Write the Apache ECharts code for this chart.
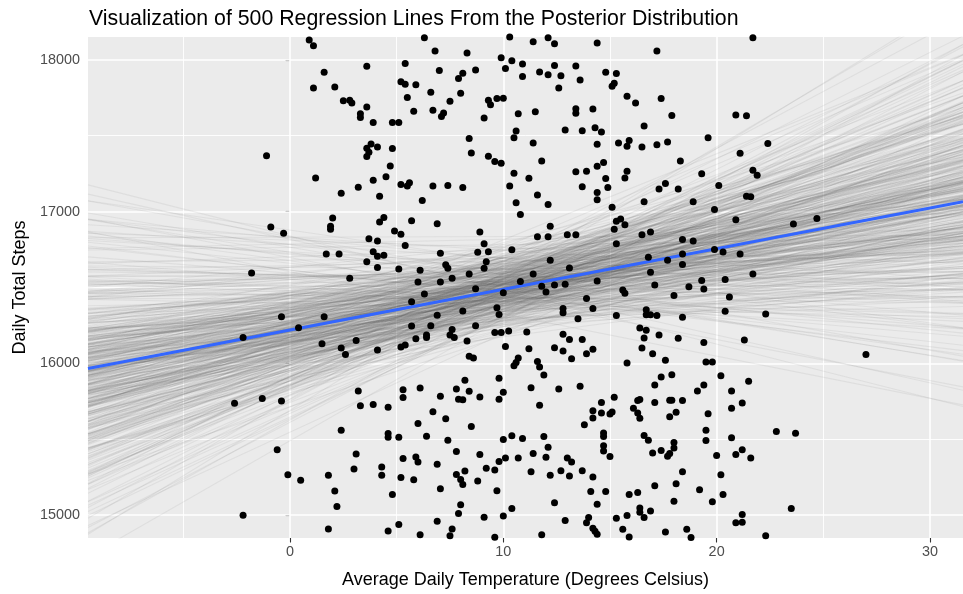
<!DOCTYPE html>
<html>
<head>
<meta charset="utf-8">
<script src="https://cdn.jsdelivr.net/npm/echarts@6/dist/echarts.min.js"></script>
<style>
html,body{margin:0;padding:0;background:#fff;}
#chart{width:963px;height:594px;}
</style>
</head>
<body>
<div id="chart"></div>
<script>
// ---- observed data: average daily temperature (°C) and daily total steps ----
const tempC = [
0.9,1.1,6.8,6.3,3.6,5.4,1.6,7.0,1.1,2.1,5.2,5.4,5.9,6.6,5.5,2.5,2.8,2.9,3.6,3.3,3.3,3.9,4.8,5.1,5.8,6.7,
-1.1,3.8,3.6,4.1,3.7,3.6,4.8,4.7,1.2,3.9,4.5,3.2,2.4,4.2,5.2,5.6,5.5,6.7,6.2,2.0,1.9,1.9,-0.9,-0.3,4.4,4.2,5.7,6.9,4.9,5.2,
3.7,4.1,5.4,3.9,1.7,2.3,4.1,4.4,7.05,3.6,4.1,5.1,6.1,-1.8,2.8,6.0,7.05,
-2.2,-0.4,1.6,0.4,1.5,2.4,2.6,3.1,4.1,5.2,5.4,5.9,6.4,6.4,6.6,6.9,5.7,5.7,6.3,-2.6,-1.3,-0.4,3.2,3.3,3.9,4.6,5.3,5.3,6.1,7.05,
6.7,6.0,2.4,4.6,4.6,5.1,6.4,-0.6,3.1,5.3,5.9,6.0,6.9,4.3,3.0,-0.1,0.5,1.8,4.3,5.2,5.8,7.05,2.1,4.8,2.2,-2.2,1.8,4.6,5.1,6.1,6.9,
8.3,11.4,12.1,12.4,14.4,17.2,10.3,9.9,10.4,10.1,10.9,10.9,8.7,8.1,7.9,8.0,7.5,7.2,7.1,11.7,12.1,12.4,12.7,12.6,13.4,13.6,14.8,
15.3,15.2,15.1,15.8,16.2,9.3,9.4,9.7,10.0,9.1,10.7,11.5,13.4,13.4,14.2,10.6,10.5,12.9,13.7,14.3,14.6,16.6,8.4,8.5,11.4,14.4,
15.4,15.8,15.9,16.5,17.2,9.3,9.6,9.9,11.8,13.4,13.9,14.4,14.7,14.8,15.8,15.7,10.5,11.2,10.3,7.4,8.1,13.7,14.9,14.4,14.4,11.6,
10.6,12.1,10.8,15.1,16.6,15.3,15.5,15.7,15.2,15.3,16.5,16.9,8.9,9.1,8.8,9.3,10.4,12.2,11.6,12.1,13.0,13.4,9.2,9.1,12.2,13.1,
8.4,7.6,7.3,7.4,11.4,10.8,12.4,12.9,14.4,16.8,16.9,17.1,11.8,
21.7,17.4,17.9,20.9,21.4,17.7,19.6,22.4,21.1,18.3,19.3,21.7,21.9,17.6,17.3,18.2,20.1,21.4,21.6,18.9,19.9,20.9,23.6,24.7,
18.4,18.9,18.4,17.7,18.4,19.9,20.3,21.1,21.7,19.3,20.4,18.7,19.4,
8.7,10.0,12.0,15.6,15.7,8.1,9.7,9.8,12.8,12.8,13.9,14.2,13.5,15.3,16.7,16.7,16.9,8.7,7.6,7.5,7.7,8.3,9.6,9.9,10.25,11.1,10.1,
12.8,13.1,13.7,12.4,12.8,13.2,13.9,14.2,11.2,16.4,16.7,16.6,16.5,17.0,8.4,8.6,10.7,10.6,10.5,11.6,11.7,11.9,15.8,9.8,8.2,7.8,
8.4,7.9,8.1,8.9,10.0,9.8,11.3,12.6,13.6,11.7,15.2,14.6,14.2,14.2,14.6,15.0,15.1,13.8,16.3,16.4,16.1,16.3,16.4,17.1,17.1,7.3,
8.5,7.4,7.8,8.9,10.0,10.4,10.9,11.9,12.1,11.4,12.0,10.1,10.7,9.8,9.2,9.6,11.3,12.2,13.0,13.2,12.7,13.1,13.7,14.2,14.7,14.7,
14.7,14.7,15.0,16.6,16.8,17.0,7.8,8.0,8.1,8.2,8.8,9.7,14.1,14.8,14.4,12.4,8.0,7.9,10.4,10.0,9.1,12.9,14.0,13.9,14.2,14.3,14.4,
15.3,15.6,15.9,15.8,15.9,16.3,16.4,16.4,16.6,16.9,17.1,7.6,7.5,9.6,11.8,
18.0,20.6,20.4,22.3,17.2,18.4,17.3,18.2,19.4,21.3,27.0,17.6,19.5,19.8,17.4,17.9,20.2,21.5,19.4,19.1,20.7,21.2,20.7,17.8,17.9,
18.4,18.1,17.8,19.6,19.5,19.5,20.7,22.8,23.7,18.0,18.0,17.4,17.8,17.7,20.0,20.9,21.2,21.6,18.4,20.2,18.1,19.2,20.3,18.0,19.8,
23.5,21.2,20.9,21.2,17.6,18.6,18.8,22.3
];
const dailySteps = [
18130,18093,18058,18145,17957,17976,17918,17929,17814,17821,17855,17838,17836,17786,17752,17730,17734,17715,17689,17644,17620,17587,17587,17587,17661,17667,
17367,17445,17417,17425,17391,17363,17415,17300,17222,17207,17229,17160,17121,17101,17179,17190,17168,17168,17073,16957,16903,16883,16898,16857,16961,16931,16939,16920,16872,16851,
16821,16806,16777,16736,16721,16721,16706,16712,16725,16670,16631,16622,16613,16596,16561,16537,16537,
16170,16307,16307,16235,16129,16101,16058,16151,16088,16108,16121,16162,16187,16170,16248,16317,16246,16406,16458,15738,15769,15753,15818,15721,15730,15712,15827,15775,15838,15784,
15682,15604,15559,15539,15513,15513,15520,15432,15403,15373,15384,15350,15335,15317,15304,15267,15231,15263,15263,15248,15233,15175,15160,15136,15058,15000,14909,14896,14939,14872,14961,
18045,18119,18145,18106,18110,18058,18150,18013,17994,17942,17972,17890,17933,17911,17877,17780,17726,17650,17626,17920,17901,17963,17894,17814,17959,17866,17918,
17909,17846,17825,17760,17715,17734,17704,17745,17747,17616,17644,17657,17678,17648,17676,17531,17486,17538,17533,17553,17525,17564,17482,17386,17451,17443,
17451,17430,17469,17425,17440,17365,17330,17318,17333,17263,17266,17298,17324,17218,17266,17222,17253,17220,17168,17172,17158,17164,17158,17125,17078,17110,
17058,17047,16981,17028,17065,16937,16952,16913,16883,16788,16847,16866,16866,16788,16732,16736,16749,16903,16834,16834,16848,16848,16670,16626,16680,16628,
16589,16561,16650,16626,16589,16540,16516,16521,16542,16699,16600,16516,16509,
18145,17745,17633,17637,17631,17458,17486,17449,17384,17333,17250,17272,17240,17185,17149,17149,17172,17101,17097,17065,17013,16946,16918,16955,
16816,16806,16721,16680,16652,16751,16734,16721,16589,16546,16553,16505,16490,
16492,16466,16471,16484,16462,16346,16367,16322,16361,16333,16427,16361,16294,16315,16354,16320,16320,16248,16223,16187,16171,16147,16203,16203,16213,16207,16112,
16192,16158,16158,16103,16082,16030,16064,16093,16097,16233,16218,16168,16101,16064,16047,16035,16035,16006,15985,16013,15976,15924,16002,15902,15889,15831,
15816,15764,15760,15779,15810,15764,15840,15831,15849,15724,15777,15743,15688,15641,15674,15667,15680,15596,15756,15762,15704,15674,15639,15743,15857,15635,
15585,15494,15419,15400,15499,15523,15505,15518,15447,15406,15382,15377,15377,15354,15309,15298,15287,15263,15377,15350,15293,15259,15293,15252,15542,15518,
15458,15423,15387,15525,15494,15410,15268,15235,15203,15291,15225,15162,15157,15157,15073,15082,15069,15011,15045,14995,14987,14965,14985,14950,14915,14894,14875,
14980,14907,14857,14998,15136,15149,15047,15019,14985,15028,15194,14909,14864,14855,14872,
16447,16438,16343,16326,16315,16304,16187,16166,16138,16155,16058,16021,16010,16009,15911,15926,15918,15883,15857,15818,15818,15740,15704,15758,15758,
15756,15678,15648,15669,15559,15492,15510,15551,15540,15479,15442,15427,15406,15389,15393,15400,15432,15377,15287,15267,15207,15168,15136,15092,15088,
15045,15004,14950,14954,14889,14907,14853,14864
];

// ---- posterior draws: expected steps at the mean temperature, and slope (steps per °C) ----
const meanTemp = 10.5;
const drawCenter = [
16546,16414,16630,16477,16303,16519,16681,16438,16504,16573,16366,16765,16492,16420,16609,16531,16267,16459,16657,16510,16393,16588,16483,16732,16345,
16516,16621,16447,16240,16555,16474,16696,16387,16528,16594,16429,16792,16498,16333,16567,16462,16645,16411,16537,16309,16600,16486,16444,16675,16513,
16468,16582,16354,16543,16720,16405,16501,16627,16285,16522,16453,16663,16432,16561,16378,16813,16489,16615,16399,16534,16471,16639,16324,16507,16576,
16423,16552,16753,16480,16357,16591,16525,16396,16648,16462,16198,16567,16441,16612,16513,16375,16708,16495,16294,16540,16636,16450,16384,16579,16489,
16528,16327,16603,16471,16690,16426,16549,16363,16504,16624,16408,16570,16465,16741,16339,16537,16480,16669,16438,16558,16312,16597,16501,16399,16654,
16456,16585,16417,16543,16783,16381,16519,16618,16447,16492,16258,16564,16642,16435,16531,16477,16699,16360,16591,16498,16420,16627,16465,16546,16348,
16606,16444,16525,16678,16330,16507,16573,16402,16468,16654,16291,16540,16486,16723,16411,16513,16609,16372,16555,16453,16774,16432,16516,16321,16582,
16489,16387,16633,16534,16423,16597,16459,16705,16345,16522,16564,16396,16501,16660,16273,16546,16474,16618,16438,16537,16750,16408,16495,16591,16369,
16558,16450,16621,16393,16510,16687,16429,16579,16342,16483,16648,16417,16552,16804,16462,16528,16306,16594,16441,16630,16492,16384,16567,16471,16714,
16354,16543,16447,16612,16498,16219,16585,16414,16519,16666,16432,16561,16477,16336,16603,16507,16693,16399,16534,16465,16624,16420,16549,16486,16651,
16421,16587,16498,16652,16355,16533,16470,16714,16392,16561,16284,16509,16622,16447,16766,16486,16318,16575,16430,16603,16240,16519,16681,16459,16541,
16373,16628,16495,16262,16557,16438,16700,16481,16345,16591,16416,16757,16526,16300,16468,16638,16402,16513,16836,16453,16579,16331,16492,16669,16407,
16548,16364,16611,16487,16229,16523,16690,16441,16572,16378,16506,16734,16458,16295,16595,16425,16545,16677,16351,16501,16617,16398,16562,16184,16479,
16640,16432,16520,16317,16583,16710,16465,16389,16535,16257,16599,16474,16658,16412,16779,16497,16338,16567,16444,16624,16281,16512,16705,16386,16550,
16461,16593,16309,16532,16686,16415,16554,16249,16503,16645,16427,16731,16369,16518,16606,16455,16327,16579,16490,16819,16394,16538,16273,16612,16482,
16357,16664,16508,16436,16589,16213,16547,16474,16701,16400,16527,16337,16634,16462,16565,16290,16512,16748,16419,16581,16454,16666,16341,16530,16440,
16602,16383,16516,16740,16449,16297,16571,16484,16653,16362,16536,16423,16690,16506,16256,16598,16466,16374,16620,16493,16787,16409,16553,16315,16524,
16470,16636,16352,16560,16414,16725,16497,16280,16586,16443,16662,16391,16540,16206,16615,16478,16344,16571,16435,16696,16511,16366,16628,16452,16584,
16325,16545,16683,16429,16497,16265,16607,16460,16719,16381,16528,16303,16650,16487,16405,16576,16842,16437,16559,16350,16515,16648,16394,16573,16467,
16613,16347,16536,16232,16569,16450,16678,16418,16525,16362,16640,16491,16289,16596,16469,16761,16401,16547,16313,16602,16476,16693,16426,16537,16380
];
const drawSlope = [
31.2,12.5,45.8,27.9,3.4,38.6,22.1,55.3,18.7,29.4,-2.8,41.0,26.3,9.9,34.7,63.2,20.5,15.1,36.9,28.8,47.6,0.7,24.4,31.9,11.6,
52.1,25.7,17.3,39.8,30.2,-11.4,44.3,21.6,8.2,33.5,27.1,58.9,14.0,23.8,37.4,5.6,29.9,48.7,19.2,26.0,71.3,16.8,35.2,2.9,42.5,
24.9,13.7,30.8,50.4,22.7,-6.1,39.1,28.3,10.4,45.1,33.0,18.1,61.5,25.2,7.3,36.2,21.0,54.6,29.0,15.9,-19.5,40.7,27.5,12.2,32.4,
46.9,23.3,4.8,35.6,26.6,66.8,19.8,31.6,9.1,43.7,28.1,-0.4,38.0,22.4,57.2,16.2,30.1,48.0,11.0,34.1,25.4,78.4,20.1,37.8,6.5,
29.6,44.9,14.6,32.7,-9.0,24.1,51.8,27.3,18.4,40.2,3.9,35.9,21.3,60.0,26.8,12.9,33.8,47.1,17.6,30.5,-27.8,42.0,23.1,8.7,36.5,
27.7,55.9,15.4,31.4,1.8,39.4,24.7,49.3,19.5,34.4,10.8,64.4,28.6,22.0,-4.5,44.0,32.1,13.3,37.1,25.9,53.0,17.0,29.2,6.0,41.5,
23.6,35.0,9.4,46.3,27.0,-14.6,38.3,20.8,57.9,30.9,14.3,33.2,2.3,43.1,26.1,68.5,18.9,31.1,11.3,40.0,24.3,-1.6,36.7,21.8,50.9,
28.4,16.5,45.4,25.0,7.7,34.9,59.6,22.9,30.3,12.0,42.8,-8.0,27.6,37.6,19.0,52.7,32.9,5.1,24.6,47.8,15.7,29.8,-22.6,39.6,26.5,
10.1,33.6,62.3,21.2,44.6,28.0,0.1,36.0,18.2,54.1,31.7,13.0,25.6,41.8,8.4,74.0,23.0,35.3,-5.3,30.0,16.0,49.9,27.2,20.3,38.8,
4.2,43.4,26.2,57.0,14.9,32.2,-12.7,39.9,22.6,9.6,46.6,29.3,17.9,65.7,24.0,35.5,1.2,41.3,28.7,12.6,51.2,20.0,-3.3,33.3,25.3,
19.4,42.7,33.1,-7.9,26.7,51.5,14.4,36.3,22.2,61.9,8.8,30.6,45.2,17.7,28.2,-31.5,39.3,24.2,11.8,55.0,32.6,20.6,70.1,27.4,4.0,
37.0,23.9,48.4,13.6,30.4,-16.8,41.6,26.4,6.9,58.2,21.5,34.6,16.1,44.1,29.1,83.0,19.9,35.7,0.4,27.8,50.2,12.4,38.4,25.5,-3.9,
31.8,9.7,46.0,22.8,64.9,17.2,33.9,28.9,-24.9,40.5,14.7,53.6,25.8,5.8,36.4,20.4,47.3,30.7,11.5,42.3,-10.3,24.5,68.0,18.6,34.0,
26.9,2.6,39.0,57.5,21.9,31.0,-35.6,44.8,15.6,29.5,7.0,50.6,23.4,37.2,13.9,62.7,28.5,19.3,41.1,-0.9,33.4,24.8,74.9,10.6,35.8,
22.3,48.9,16.4,30.0,-13.2,43.9,26.4,9.2,56.4,20.7,38.1,12.8,32.3,-5.8,46.5,27.3,17.5,66.1,25.1,3.1,40.8,29.7,14.2,52.4,23.7,
35.1,-20.4,28.3,45.7,11.9,38.7,21.1,59.1,6.3,33.0,24.2,80.6,18.0,30.2,-1.9,42.4,15.3,49.1,27.5,8.0,36.8,22.5,63.9,13.4,31.5,
19.6,47.5,26.0,-8.7,40.4,29.0,1.5,54.8,17.8,34.2,10.3,44.5,23.2,70.8,28.8,-17.5,37.9,20.9,5.3,50.0,32.0,15.0,61.0,25.7,39.2,
7.9,30.8,53.3,21.7,-27.0,43.3,27.1,12.3,36.1,58.5,18.3,33.7,0.9,46.8,24.9,14.8,67.4,29.4,-6.7,38.9,22.0,51.0,9.0,35.4,26.3,
41.9,16.6,30.1,-11.9,48.2,23.5,3.6,37.3,19.7,73.2,28.6,11.1,44.2,-2.4,32.8,25.2,56.7,14.1,39.7,21.4,-23.8,46.1,27.9,6.7,34.8,
20.2,63.0,29.3,12.7,40.9,-15.7,25.9,50.7,17.4,33.9,8.6,45.0,22.9,86.2,31.3,-4.8,36.6,15.8,54.3,24.1,2.0,39.5,28.0,18.8,43.6
];
// posterior mean line (intercept at 0 °C, slope)
const meanIntercept = 16220;
const meanSlope = 26.8;

// ---- axis settings ----
const xMin = -9.47, xMax = 31.55;
const yMin = 14850, yMax = 18150;
const xMajor = [0, 10, 20, 30];
const xMinor = [-5, 5, 15, 25];
const yMajor = [15000, 16000, 17000, 18000];
const yMinor = [15500, 16500, 17500];

const chart = echarts.init(document.getElementById('chart'), null, {renderer: 'canvas'});
const FONT = 'Liberation Sans, Arial, Helvetica, sans-serif';

const series = [];
// grid lines (drawn beneath everything)
series.push({
  type: 'line', data: [], z: 1, silent: true, animation: false,
  markLine: {
    z: 1, silent: true, symbol: 'none', animation: false, label: {show: false},
    data: [
      ...xMinor.map(v => ({xAxis: v, lineStyle: {color: '#fff', width: 0.9, type: 'solid'}})),
      ...yMinor.map(v => ({yAxis: v, lineStyle: {color: '#fff', width: 0.9, type: 'solid'}})),
      ...xMajor.map(v => ({xAxis: v, lineStyle: {color: '#fff', width: 1.6, type: 'solid'}})),
      ...yMajor.map(v => ({yAxis: v, lineStyle: {color: '#fff', width: 1.6, type: 'solid'}}))
    ]
  }
});
// posterior regression lines
const nDraws = Math.min(drawSlope.length, drawCenter.length);
for (let i = 0; i < nDraws; i++) {
  const c = drawCenter[i], s = drawSlope[i];
  series.push({
    type: 'line', z: 2, silent: true, animation: false, clip: true,
    symbol: 'none',
    lineStyle: {color: '#606060', width: 1.1, opacity: 0.09},
    data: [[xMin, c + s * (xMin - meanTemp)], [xMax, c + s * (xMax - meanTemp)]]
  });
}
// posterior mean line
series.push({
  type: 'line', z: 3, silent: true, animation: false, clip: true, symbol: 'none',
  lineStyle: {color: '#3366FF', width: 3},
  data: [[xMin, meanIntercept + meanSlope * xMin], [xMax, meanIntercept + meanSlope * xMax]]
});
// observations
series.push({
  type: 'scatter', z: 4, silent: true, animation: false, clip: true,
  symbolSize: 7,
  itemStyle: {color: '#000', opacity: 1},
  data: tempC.map((t, i) => [t, dailySteps[i]])
});

chart.setOption({
  animation: false,
  backgroundColor: '#fff',
  title: {
    text: 'Visualization of 500 Regression Lines From the Posterior Distribution',
    left: 84, top: 4,
    textStyle: {fontFamily: FONT, fontSize: 21.3, fontWeight: 'normal', color: '#000'}
  },
  grid: {left: 88, right: 0, top: 37, bottom: 47, show: true, backgroundColor: '#EBEBEB', borderWidth: 0, containLabel: false},
  xAxis: {
    type: 'value', min: xMin, max: xMax,
    name: 'Average Daily Temperature (Degrees Celsius)',
    nameLocation: 'middle', nameGap: 33,
    nameTextStyle: {fontFamily: FONT, fontSize: 18, color: '#000'},
    axisLine: {show: false},
    axisTick: {show: true, customValues: xMajor, length: 4.5, lineStyle: {color: '#333', width: 1.1}},
    axisLabel: {customValues: xMajor, margin: 7, fontFamily: FONT, fontSize: 14.4, color: '#4D4D4D', formatter: v => String(v)},
    splitLine: {show: false}
  },
  yAxis: {
    type: 'value', min: yMin, max: yMax,
    name: 'Daily Total Steps',
    nameLocation: 'middle', nameGap: 47, nameRotate: 90,
    nameTextStyle: {fontFamily: FONT, fontSize: 18, color: '#000'},
    axisLine: {show: false},
    axisTick: {show: true, customValues: yMajor, length: 4.5, lineStyle: {color: '#333', width: 1.1}},
    axisLabel: {customValues: yMajor, margin: 8, fontFamily: FONT, fontSize: 14.4, color: '#4D4D4D', formatter: v => String(v)},
    splitLine: {show: false}
  },
  series: series
});
</script>
</body>
</html>
